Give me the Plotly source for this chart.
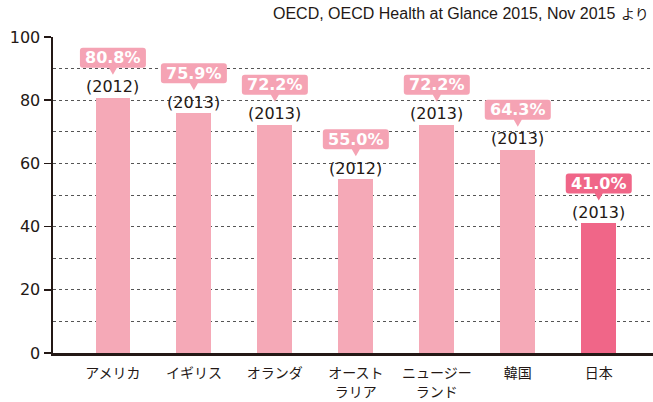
import plotly.graph_objects as go

categories = ["アメリカ", "イギリス", "オランダ", "オースト<br>ラリア", "ニュージー<br>ランド", "韓国", "日本"]
values = [80.8, 75.9, 72.2, 55.0, 72.2, 64.3, 41.0]
years = ["(2012)", "(2013)", "(2013)", "(2012)", "(2013)", "(2013)", "(2013)"]
source_main = "OECD, OECD Health at Glance 2015, Nov 2015"
source_tail = "より"

CJK = "Noto Sans CJK JP"
NUM = "DejaVu Sans, Noto Sans CJK JP"
SRC = "Liberation Sans"
LIGHT = "#f5a9b7"
DARK = "#f06688"
BOX_LIGHT = "#f5a3b4"
TEXTC = "#231815"

xs = list(range(len(values)))
bar_colors = [DARK if c == "日本" else LIGHT for c in categories]
box_colors = [DARK if c == "日本" else BOX_LIGHT for c in categories]

fig = go.Figure()
fig.add_trace(go.Bar(x=xs, y=values, width=0.43, marker=dict(color=bar_colors, line=dict(width=0)),
                     hoverinfo="skip"))

def box_path(w=33, b=30, t=50, r=3, pw=4, tip=23):
    return (f"M {-w+r},{b} L {-pw},{b} L 0,{tip} L {pw},{b} L {w-r},{b} "
            f"Q {w},{b} {w},{b+r} L {w},{t-r} Q {w},{t} {w-r},{t} "
            f"L {-w+r},{t} Q {-w},{t} {-w},{t-r} L {-w},{b+r} Q {-w},{b} {-w+r},{b} Z")

shapes = []
annotations = []
for x, v, yr, bc in zip(xs, values, years, box_colors):
    shapes.append(dict(type="path", xref="x", yref="y", xsizemode="pixel", ysizemode="pixel",
                       xanchor=x, yanchor=v, path=box_path(), fillcolor=bc, line=dict(width=0),
                       layer="above"))
    annotations.append(dict(x=x, y=v, xref="x", yref="y", text=f"<b>{v:.1f}%</b>", showarrow=False,
                            yshift=40, font=dict(family=NUM, size=16, color="white")))
    annotations.append(dict(x=x, y=v, xref="x", yref="y", text=yr, showarrow=False,
                            yshift=11, font=dict(family=NUM, size=16, color=TEXTC)))

annotations.append(dict(x=0, y=1.0, xref="paper", yref="paper", xanchor="right", yanchor="middle",
                        xshift=564, yshift=24, text=source_main, showarrow=False,
                        font=dict(family=SRC, size=16, color=TEXTC)))
annotations.append(dict(x=0, y=1.0, xref="paper", yref="paper", xanchor="left", yanchor="middle",
                        xshift=566, yshift=24, text=source_tail, showarrow=False,
                        font=dict(family=CJK, size=14, color=TEXTC)))

fig.update_layout(
    width=653, height=402,
    margin=dict(l=53, r=0, t=37, b=49),
    paper_bgcolor="white", plot_bgcolor="white",
    showlegend=False,
    shapes=shapes, annotations=annotations,
    font=dict(family=CJK, color=TEXTC),
    xaxis=dict(range=[-0.74, 6.67], tickvals=xs, ticktext=categories, showgrid=False,
               showline=True, linecolor=TEXTC, linewidth=2.5, ticks="", zeroline=False,
               ticklabelstandoff=6,
               tickfont=dict(family=CJK, size=14, color=TEXTC), fixedrange=True),
    yaxis=dict(range=[0, 100], dtick=20, tick0=0, showgrid=True, gridcolor="#555555", gridwidth=1,
               griddash="3px,3px", showline=True, linecolor=TEXTC, linewidth=2.5,
               ticks="outside", ticklen=7, tickwidth=1.5, tickcolor=TEXTC, zeroline=False,
               tickfont=dict(family=NUM, size=16, color=TEXTC),
               minor=dict(dtick=10, showgrid=True, gridcolor="#555555", gridwidth=1, griddash="3px,3px"),
               fixedrange=True),
    bargap=0,
)

fig.write_html("out.html", config={"displayModeBar": False, "staticPlot": True},
               post_script="document.body.style.margin='0';document.body.style.overflow='hidden';")
